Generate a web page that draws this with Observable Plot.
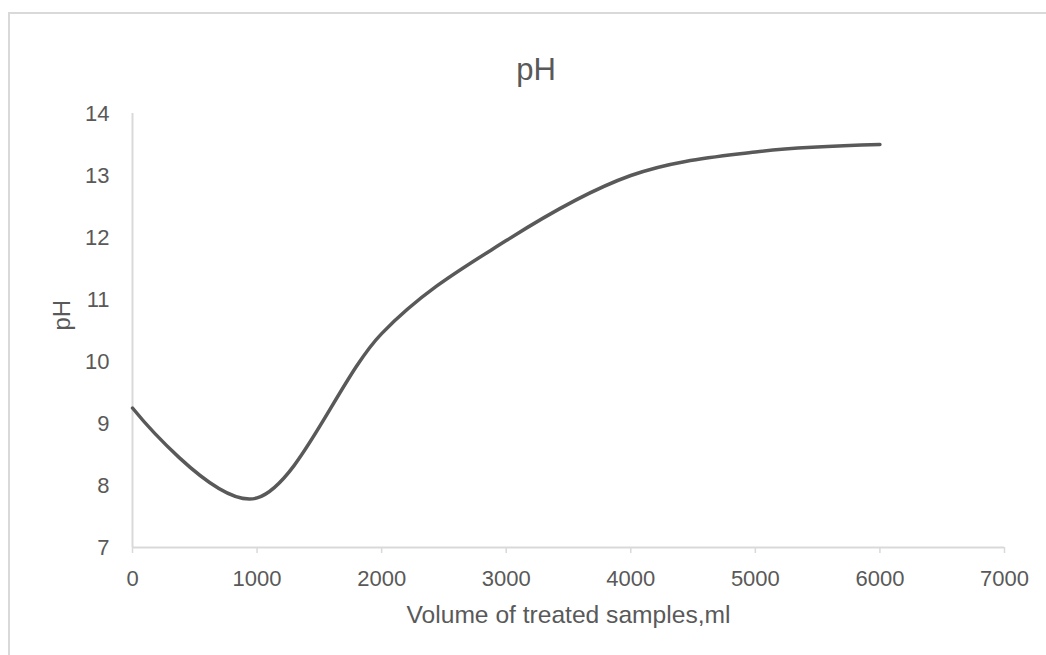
<!DOCTYPE html>
<html>
<head>
<meta charset="utf-8">
<script src="https://cdn.jsdelivr.net/npm/d3@7"></script>
<script src="https://cdn.jsdelivr.net/npm/@observablehq/plot@0.6"></script>
<style>
  html, body { margin: 0; padding: 0; background: #ffffff; }
  #wrap { position: relative; width: 1046px; height: 655px; overflow: hidden; font-family: "Liberation Sans", Arial, sans-serif; }
  #frame { position: absolute; left: 8px; top: 12px; width: 1200px; height: 800px; border-top: 2px solid #d9d9d9; border-left: 2px solid #d9d9d9; pointer-events: none; }
  #title { position: relative; height: 100px; }
  #title span { position: absolute; left: 436px; width: 200px; top: 54px; text-align: center; font-size: 31px; line-height: 31px; color: #595959; }
  #chart svg { display: block; }
</style>
</head>
<body>
<div id="wrap">
  <div id="frame"></div>
  <div id="title"><span id="titleText"></span></div>
  <div id="chart"></div>
</div>
<script>
// Data
const volume = [0, 1000, 2000, 3000, 4000, 5000, 6000];
const pHValues = [9.25, 7.8, 10.45, 11.95, 13.0, 13.38, 13.5];
const xTicks = [0, 1000, 2000, 3000, 4000, 5000, 6000, 7000];
const yTicks = [7, 8, 9, 10, 11, 12, 13, 14];
const titleText = "pH";
const xLabel = "Volume of treated samples,ml";
const yLabel = "pH";

const data = volume.map((v, i) => ({volume: v, pH: pHValues[i]}));

document.getElementById("titleText").textContent = titleText;

const chart = Plot.plot({
  width: 1046,
  height: 555,
  marginTop: 13,
  marginBottom: 108,
  marginLeft: 132,
  marginRight: 42,
  style: {
    fontFamily: "'Liberation Sans', Arial, sans-serif",
    fontSize: "22px",
    color: "#595959",
    background: "transparent",
    overflow: "visible"
  },
  x: {domain: [0, 7000]},
  y: {domain: [7, 14]},
  marks: [
    Plot.axisX({ticks: xTicks, tickSize: 6, tickPadding: 17, stroke: "#d9d9d9", strokeWidth: 1.5, fill: "#595959", label: null, tickFormat: d => String(d)}),
    Plot.axisY({ticks: yTicks, tickSize: 0, tickPadding: 23, fill: "#595959", label: null, tickFormat: d => String(d)}),
    Plot.ruleY([7], {stroke: "#d9d9d9", strokeWidth: 2}),
    Plot.ruleX([0], {stroke: "#d9d9d9", strokeWidth: 2}),
    Plot.line(data, {x: "volume", y: "pH", curve: "cardinal", tension: 0, stroke: "#595959", strokeWidth: 3.5, strokeLinecap: "round", strokeLinejoin: "round"}),
    Plot.text([xLabel], {frameAnchor: "bottom", dy: 68, text: d => d, fontSize: 24.6, lineAnchor: "middle", fill: "#595959"}),
    Plot.text([yLabel], {frameAnchor: "left", dx: -70, rotate: -90, text: d => d, fontSize: 24, lineAnchor: "middle", fill: "#595959"})
  ]
});
document.getElementById("chart").appendChild(chart);
</script>
</body>
</html>
